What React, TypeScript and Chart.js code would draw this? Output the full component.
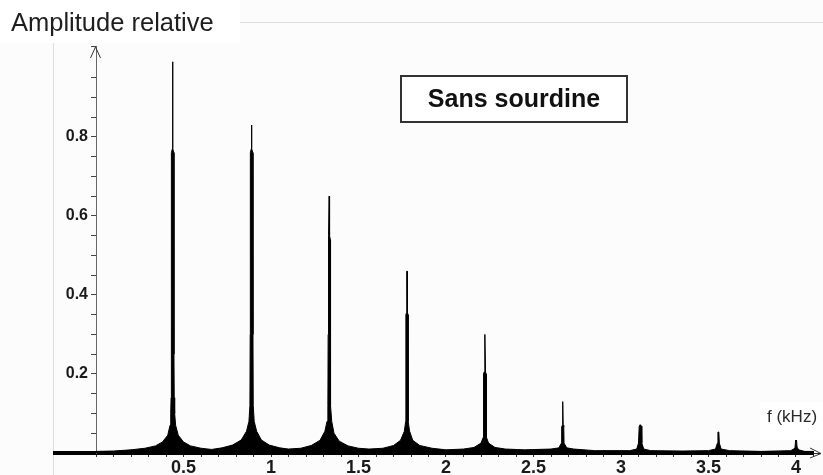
import { useEffect, useRef } from 'react';
import { Chart, registerables } from 'chart.js';

Chart.register(...registerables);

// Spectrum: [frequency (kHz), relative amplitude]
const harmonic1: [number, number][] = [[0.0, 0.004], [0.1, 0.005], [0.2, 0.008], [0.28, 0.012], [0.34, 0.018], [0.38, 0.028], [0.41, 0.045], [0.423, 0.07], [0.427, 0.1], [0.429, 0.14], [0.4305, 0.25], [0.431, 0.76], [0.4365, 0.77], [0.4375, 0.99], [0.4385, 0.99], [0.4395, 0.77], [0.445, 0.76], [0.4455, 0.25], [0.447, 0.14], [0.4495, 0.1], [0.455, 0.07], [0.47, 0.045], [0.5, 0.028], [0.54, 0.018], [0.6, 0.012], [0.66, 0.009]];
const harmonic2: [number, number][] = [[0.72, 0.013], [0.78, 0.02], [0.83, 0.033], [0.86, 0.055], [0.874, 0.08], [0.8795, 0.12], [0.881, 0.3], [0.882, 0.76], [0.8875, 0.77], [0.8885, 0.83], [0.8895, 0.83], [0.8905, 0.77], [0.896, 0.76], [0.897, 0.3], [0.8985, 0.12], [0.904, 0.08], [0.918, 0.055], [0.945, 0.033], [0.99, 0.02], [1.05, 0.013], [1.1, 0.01]];
const harmonic3: [number, number][] = [[1.17, 0.012], [1.23, 0.019], [1.28, 0.032], [1.308, 0.055], [1.32, 0.08], [1.325, 0.12], [1.3265, 0.3], [1.327, 0.54], [1.3305, 0.55], [1.3322, 0.65], [1.3338, 0.65], [1.3355, 0.55], [1.339, 0.54], [1.3395, 0.3], [1.341, 0.12], [1.347, 0.08], [1.36, 0.05], [1.39, 0.03], [1.44, 0.018], [1.5, 0.012], [1.56, 0.01]];
const harmonic4: [number, number][] = [[1.64, 0.012], [1.7, 0.019], [1.74, 0.032], [1.762, 0.055], [1.7695, 0.08], [1.7705, 0.25], [1.771, 0.35], [1.7745, 0.355], [1.7762, 0.46], [1.7778, 0.46], [1.7795, 0.355], [1.783, 0.35], [1.7835, 0.25], [1.7845, 0.08], [1.792, 0.055], [1.81, 0.032], [1.85, 0.019], [1.92, 0.012], [2.0, 0.008]];
const harmonic5: [number, number][] = [[2.1, 0.01], [2.16, 0.014], [2.2, 0.025], [2.213, 0.04], [2.2145, 0.2], [2.218, 0.205], [2.2212, 0.3], [2.2228, 0.3], [2.226, 0.205], [2.2295, 0.2], [2.231, 0.04], [2.243, 0.025], [2.28, 0.014], [2.34, 0.01], [2.45, 0.008]];
const harmonic6: [number, number][] = [[2.6, 0.01], [2.645, 0.013], [2.6595, 0.025], [2.661, 0.066], [2.6645, 0.07], [2.6662, 0.13], [2.6678, 0.13], [2.6695, 0.07], [2.673, 0.066], [2.6745, 0.025], [2.69, 0.013], [2.73, 0.01], [2.85, 0.006]];
const harmonic7: [number, number][] = [[3.05, 0.006], [3.09, 0.01], [3.1, 0.025], [3.104, 0.068], [3.107, 0.071], [3.113, 0.071], [3.116, 0.068], [3.119, 0.025], [3.13, 0.01], [3.17, 0.006], [3.35, 0.005]];
const harmonic8: [number, number][] = [[3.5, 0.006], [3.54, 0.01], [3.551, 0.025], [3.554, 0.053], [3.559, 0.053], [3.562, 0.025], [3.572, 0.01], [3.62, 0.006], [3.8, 0.004]];
const harmonic9: [number, number][] = [[3.97, 0.006], [3.994, 0.012], [3.998, 0.033], [4.003, 0.033], [4.006, 0.015], [4.015, 0.008], [4.05, 0.004], [4.1, 0.004]];

const xLabels = ['0.5', '1', '1.5', '2', '2.5', '3', '3.5', '4'];
const yLabels = ['0.2', '0.4', '0.6', '0.8'];

const TITLE = 'Amplitude relative';
const BOX_TEXT = 'Sans sourdine';
const X_UNIT = 'f (kHz)';

const decorations = {
  id: 'decorations',
  beforeDraw(chart: any) {
    const ctx = chart.ctx;
    ctx.save();
    ctx.fillStyle = '#fcfcfc';
    ctx.fillRect(0, 0, chart.width, chart.height);
    ctx.fillStyle = '#ffffff';
    ctx.fillRect(0, 0, 240, 43);
    ctx.strokeStyle = '#dddddd';
    ctx.lineWidth = 1;
    ctx.beginPath();
    ctx.moveTo(240, 22.5);
    ctx.lineTo(chart.width, 22.5);
    ctx.moveTo(53.5, 43);
    ctx.lineTo(53.5, chart.height);
    ctx.stroke();
    ctx.fillStyle = '#1e1e1e';
    ctx.font = '25.5px "Liberation Sans", Arial, sans-serif';
    ctx.textAlign = 'left';
    ctx.textBaseline = 'alphabetic';
    ctx.fillText(TITLE, 11, 31);
    ctx.restore();
  },
  afterDraw(chart: any) {
    const ctx = chart.ctx;
    const xs = chart.scales.x;
    const ys = chart.scales.y;
    const x0 = xs.getPixelForValue(0);
    const y0 = ys.getPixelForValue(0);
    const right = chart.chartArea.right;
    ctx.save();
    // baseline extension to the left of the y axis
    ctx.fillStyle = '#000';
    ctx.fillRect(53, y0 - 2, x0 - 53, 4);
    // x arrow
    ctx.strokeStyle = '#333';
    ctx.lineWidth = 1;
    ctx.beginPath();
    ctx.moveTo(right, y0 + 0.5);
    ctx.lineTo(821, y0 + 0.5);
    ctx.moveTo(810, y0 - 5);
    ctx.lineTo(821, y0 + 0.5);
    ctx.lineTo(810, y0 + 5);
    ctx.stroke();
    // y arrow
    const top = chart.chartArea.top;
    ctx.beginPath();
    ctx.moveTo(x0 - 5.5, top + 12);
    ctx.lineTo(x0 - 0.5, top + 1);
    ctx.lineTo(x0 + 4.5, top + 12);
    ctx.stroke();
    // unit label
    ctx.fillStyle = '#ffffff';
    ctx.fillRect(760, 402, 63, 38);
    ctx.fillStyle = '#2a2a2a';
    ctx.font = '17px "Liberation Sans", Arial, sans-serif';
    ctx.textAlign = 'left';
    ctx.textBaseline = 'alphabetic';
    ctx.fillText(X_UNIT, 767, 422);
    // boxed label
    ctx.fillStyle = '#ffffff';
    ctx.fillRect(401, 76, 226, 46);
    ctx.strokeStyle = '#333';
    ctx.lineWidth = 2;
    ctx.strokeRect(401, 76, 226, 46);
    ctx.fillStyle = '#111';
    ctx.font = 'bold 25px "Liberation Sans", Arial, sans-serif';
    ctx.textAlign = 'center';
    ctx.textBaseline = 'middle';
    ctx.fillText(BOX_TEXT, 514, 100);
    ctx.restore();
  },
};

export default function App() {
  const canvasRef = useRef<HTMLCanvasElement | null>(null);

  useEffect(() => {
    const canvas = canvasRef.current;
    if (!canvas) return;
    const points = [
      ...harmonic1, ...harmonic2, ...harmonic3, ...harmonic4, ...harmonic5,
      ...harmonic6, ...harmonic7, ...harmonic8, ...harmonic9,
    ].map(([x, y]) => ({ x, y }));

    const chart = new Chart(canvas, {
      type: 'line',
      data: {
        datasets: [
          {
            label: 'Spectre',
            data: points,
            borderColor: '#000',
            backgroundColor: '#000',
            borderWidth: 1,
            fill: 'origin',
            pointRadius: 0,
            tension: 0,
            borderJoinStyle: 'bevel',
          },
        ],
      },
      options: {
        animation: false,
        responsive: false,
        devicePixelRatio: 1,
        layout: { padding: { top: 46, right: 9.5, left: 0, bottom: 0 } },
        plugins: {
          legend: { display: false },
          tooltip: { enabled: false },
          title: { display: false },
        },
        scales: {
          x: {
            type: 'linear',
            position: 'bottom',
            min: 0,
            max: 4.1,
            afterFit: (s: any) => { s.height = 22; },
            grid: { drawOnChartArea: false, drawTicks: true, tickLength: 4, color: '#333', lineWidth: 1 },
            border: { display: true, color: '#000', width: 4 },
            ticks: {
              stepSize: 0.1,
              autoSkip: false,
              maxRotation: 0,
              padding: 0,
              color: '#1a1a1a',
              font: { family: '"Liberation Sans", Arial, sans-serif', size: 18, weight: 'bold' },
              callback: (v: any) => {
                const r = Math.round(Number(v) * 10);
                if (r > 0 && r % 5 === 0) {
                  const s = String(r / 10);
                  return xLabels.includes(s) ? s : '';
                }
                return '';
              },
            },
          },
          y: {
            type: 'linear',
            position: 'left',
            min: 0,
            max: 1.03,
            afterFit: (s: any) => { s.width = 96; },
            grid: { drawOnChartArea: false, drawTicks: true, tickLength: 5, color: '#444', lineWidth: 1 },
            border: { display: true, color: '#666', width: 1 },
            ticks: {
              stepSize: 0.05,
              autoSkip: false,
              padding: 3,
              color: '#1a1a1a',
              font: { family: '"Liberation Sans", Arial, sans-serif', size: 16, weight: 'bold' },
              callback: (v: any) => {
                const r = Math.round(Number(v) * 100);
                if (r > 0 && r % 20 === 0) {
                  const s = (r / 100).toFixed(1);
                  return yLabels.includes(s) ? s : '';
                }
                return '';
              },
            },
          },
        },
      },
      plugins: [decorations],
    });
    return () => chart.destroy();
  }, []);

  return (
    <div style={{ position: 'absolute', left: 0, top: 0, width: 823, height: 475 }}>
      <canvas ref={canvasRef} width={823} height={475} style={{ display: 'block', width: 823, height: 475 }} />
    </div>
  );
}
